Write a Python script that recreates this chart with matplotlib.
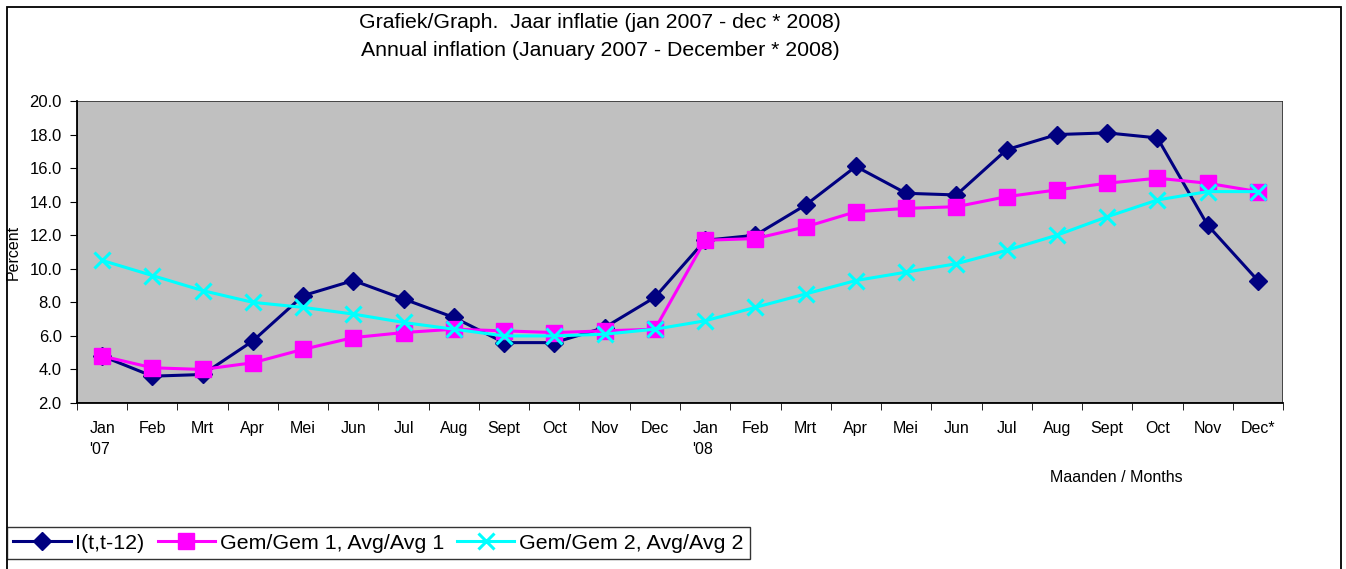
import matplotlib
matplotlib.use("Agg")
import matplotlib.pyplot as plt
import numpy as np

plt.rcParams["font.family"] = ["Liberation Sans", "DejaVu Sans"]

months = ["Jan\n'07", "Feb", "Mrt", "Apr", "Mei", "Jun", "Jul", "Aug", "Sept", "Oct", "Nov", "Dec",
          "Jan\n'08", "Feb", "Mrt", "Apr", "Mei", "Jun", "Jul", "Aug", "Sept", "Oct", "Nov", "Dec*"]

infl_12 = [4.8, 3.6, 3.7, 5.7, 8.4, 9.3, 8.2, 7.1, 5.6, 5.6, 6.5, 8.3,
           11.7, 12.0, 13.8, 16.1, 14.5, 14.4, 17.1, 18.0, 18.1, 17.8, 12.6, 9.3]
avg_1 = [4.8, 4.1, 4.0, 4.4, 5.2, 5.9, 6.2, 6.4, 6.3, 6.2, 6.3, 6.4,
         11.7, 11.8, 12.5, 13.4, 13.6, 13.7, 14.3, 14.7, 15.1, 15.4, 15.1, 14.6]
avg_2 = [10.5, 9.6, 8.7, 8.0, 7.7, 7.3, 6.8, 6.4, 6.0, 6.0, 6.1, 6.4,
         6.9, 7.7, 8.5, 9.3, 9.8, 10.3, 11.1, 12.0, 13.1, 14.1, 14.6, 14.6]

fig = plt.figure(figsize=(13.46, 5.69), dpi=100)
ax = fig.add_axes([0.0572, 0.2917, 0.8960, 0.5308])
ax.set_facecolor("#c0c0c0")

x = np.arange(len(months))
ax.plot(x, infl_12, color="#000080", lw=2.2, marker="D", ms=9, label="I(t,t-12)", zorder=3)
ax.plot(x, avg_1, color="#ff00ff", lw=2.2, marker="s", ms=11, label="Gem/Gem 1, Avg/Avg 1", zorder=4)
ax.plot(x, avg_2, color="#00ffff", lw=2.2, marker="x", ms=11, mew=2.2,
        label="Gem/Gem 2, Avg/Avg 2", zorder=5)

ax.set_xlim(-0.5, len(months) - 0.5)
ax.set_ylim(2.0, 20.0)
ax.set_yticks(np.arange(2.0, 20.1, 2.0))
ax.set_yticklabels([f"{v:.1f}" for v in np.arange(2.0, 20.1, 2.0)], fontsize=12)
ax.set_xticks(x)
ax.set_xticklabels(months, fontsize=11.5, linespacing=1.5, va="top")
ax.set_xticks(np.arange(-0.5, len(months), 1.0), minor=True)
ax.tick_params(axis="x", which="major", length=0, pad=13)
ax.tick_params(axis="x", which="minor", length=5, direction="out")
ax.tick_params(axis="y", length=5, direction="out", pad=6)
for lbl in ax.get_xticklabels():
    lbl.set_multialignment("left")
for side in ("top", "right"):
    ax.spines[side].set_visible(False)
ax.spines["left"].set_linewidth(1.3)
ax.spines["bottom"].set_linewidth(1.3)
# plot area border
ax.add_patch(plt.Rectangle((0, 0), 1, 1, transform=ax.transAxes, fill=False,
                           edgecolor="#303030", lw=1.2, zorder=1))

ax.set_ylabel("Percent", fontsize=11.5, labelpad=6)

fig.text(0.4458, 0.961, "Grafiek/Graph.  Jaar inflatie (jan 2007 - dec * 2008)", ha="center",
         va="center", fontsize=15.3)
fig.text(0.4458, 0.912, "Annual inflation (January 2007 - December * 2008)", ha="center",
         va="center", fontsize=15.3)
fig.text(0.8295, 0.161, "Maanden / Months", ha="center", va="center", fontsize=11.5)

leg = fig.legend(loc="lower left", bbox_to_anchor=(7 / 1346, 10 / 569), ncol=3, fontsize=15.4,
                 frameon=True, fancybox=False, edgecolor="black", handlelength=2.7,
                 handletextpad=0.2, columnspacing=0.6, borderpad=0.3, borderaxespad=0)
leg.get_frame().set_linewidth(1.0)

fig.patches.append(plt.Rectangle((7 / 1346, -0.02), 1334 / 1346, 1 - 7 / 569 + 0.02,
                                 transform=fig.transFigure, fill=False, edgecolor="black", lw=1.3))

fig.savefig("out.png", dpi=100)
